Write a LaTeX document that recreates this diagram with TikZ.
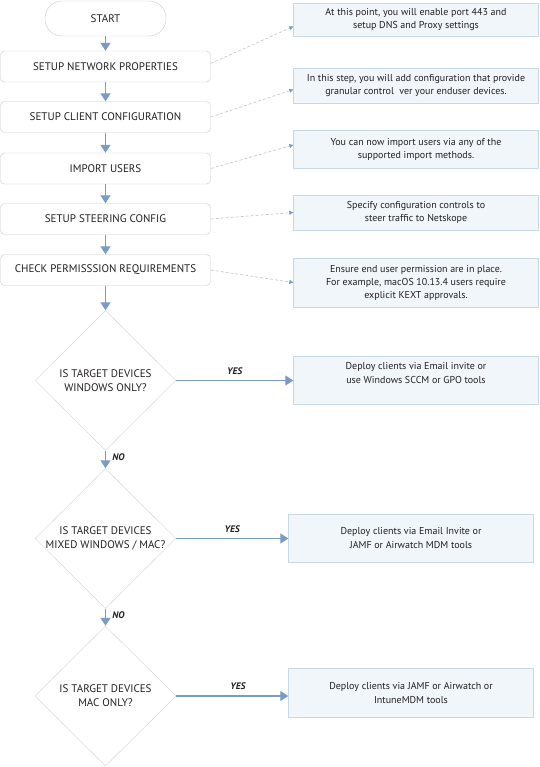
\documentclass[tikz,border=0pt]{standalone}
\usepackage{fontspec}
\setmainfont{PT Sans}
\usetikzlibrary{shapes.geometric,arrows.meta}
\definecolor{flowblue}{HTML}{7A9CC2}
\definecolor{boxline}{HTML}{CACACA}
\definecolor{noteline}{HTML}{C9D8E6}
\definecolor{notefill}{HTML}{F1F6FB}
\definecolor{dashline}{HTML}{C3C9D1}
\definecolor{inktext}{HTML}{231F20}
\tikzset{
  stepbox/.style={draw=boxline, rounded corners=4pt, fill=white, minimum width=210pt,
    minimum height=31pt, inner sep=0pt, text=inktext, font=\fontsize{11}{13}\selectfont},
  notebox/.style={draw=noteline, fill=notefill, minimum width=245pt, inner sep=0pt,
    align=center, text=inktext, font=\fontsize{10}{13}\selectfont},
  decision/.style={draw=boxline!85, shape=diamond, minimum width=141pt, minimum height=140pt,
    inner sep=0pt},
  qtext/.style={align=center, text=inktext, font=\fontsize{11}{14}\selectfont},
  flow/.style={draw=flowblue, line width=1.3pt, -{Triangle[width=10pt,length=8pt]}},
  hint/.style={draw=dashline, dash pattern=on 3pt off 2pt, line width=0.7pt,
    -{Triangle[width=4pt,length=4pt,color=flowblue]}},
  answer/.style={text=inktext, font=\fontsize{9.5}{11}\bfseries\itshape\selectfont}
}
\begin{document}
\begin{tikzpicture}[x=1pt,y=-1pt]
  \useasboundingbox (0,0) rectangle (539,767);
  % Steps on the left
  \node[stepbox, rounded corners=17pt, minimum width=121pt, minimum height=35pt] (start) at (105.5,18.5) {START};
  \node[stepbox] (network) at (105.5,66.5) {SETUP NETWORK PROPERTIES};
  \node[stepbox] (client) at (105.5,117) {SETUP CLIENT CONFIGURATION};
  \node[stepbox] (users) at (105.5,168.5) {IMPORT USERS};
  \node[stepbox] (steering) at (105.5,219) {SETUP STEERING CONFIG};
  \node[stepbox] (perms) at (105.5,270) {CHECK PERMISSSION REQUIREMENTS};
  % Notes on the right
  \node[notebox, minimum height=33pt] (netnote) at (416,19.5)
    {At this point, you will enable port 443 and\\setup DNS and Proxy settings};
  \node[notebox, minimum height=35pt] (clientnote) at (416,85.5)
    {In this step, you will add configuration that provide\\granular control\ \ ver your enduser devices.};
  \node[notebox, minimum height=38pt] (usernote) at (416,149)
    {You can now import users via any of the\\supported import methods.};
  \node[notebox, minimum height=35pt] (steernote) at (416,212.5)
    {Specify configuration controls to\\steer traffic to Netskope};
  \node[notebox, minimum height=49pt] (permnote) at (416,282.5)
    {Ensure end user permission are in place.\\For example, macOS 10.13.4 users require\\explicit KEXT approvals.};
  % Decisions
  \node[decision, label={[qtext]center:IS TARGET DEVICES\\WINDOWS ONLY?}] (winq) at (105.5,380.5) {};
  \node[decision, label={[qtext]center:IS TARGET DEVICES\\MIXED WINDOWS / MAC?}] (mixq) at (105.5,538.5) {};
  \node[decision, label={[qtext]center:IS TARGET DEVICES\\MAC ONLY?}] (macq) at (105.5,696) {};
  % Deploy boxes
  \node[notebox, minimum height=48pt, text depth=14pt, font=\fontsize{10}{14}\selectfont] (windeploy) at (416,380)
    {Deploy clients via Email invite or\\use Windows SCCM or GPO tools};
  \node[notebox, minimum height=48pt, font=\fontsize{10}{14}\selectfont] (mixdeploy) at (411,538)
    {Deploy clients via Email Invite or\\JAMF or Airwatch MDM tools};
  \node[notebox, minimum height=49pt, font=\fontsize{10}{14}\selectfont] (macdeploy) at (411,692.5)
    {Deploy clients via JAMF or Airwatch or\\IntuneMDM tools};
  % Main flow
  \draw[flow] (start) -- (network);
  \draw[flow] (network) -- (client);
  \draw[flow] (client) -- (users);
  \draw[flow] (users) -- (steering);
  \draw[flow] (steering) -- (perms);
  \draw[flow] (perms) -- (winq);
  \draw[flow] (winq) -- node[answer, right=3pt, pos=0.35] (no1) {NO} (mixq);
  \draw[flow] (mixq) -- node[answer, right=3pt, pos=0.35] (no2) {NO} (macq);
  \draw[flow] (winq.east) -- node[answer, above=2pt, pos=0.5] (yes1) {YES} (winq.east -| windeploy.west);
  \draw[flow] (mixq.east) -- node[answer, above=2pt, pos=0.5] (yes2) {YES} (mixq.east -| mixdeploy.west);
  \draw[flow] (macq.east) -- node[answer, above=2pt, pos=0.55] (yes3) {YES} (macq.east -| macdeploy.west);
  % Dashed hints
  \draw[hint] ([yshift=3pt]network.east) -- ([yshift=-7pt]netnote.west);
  \draw[hint] (client.east) -- ([yshift=-4pt]clientnote.west);
  \draw[hint] (users.east) -- ([yshift=4pt]usernote.west);
  \draw[hint] (steering.east) -- (steernote.west);
  \draw[hint] (perms.east) -- (permnote.west);
\end{tikzpicture}
\end{document}
